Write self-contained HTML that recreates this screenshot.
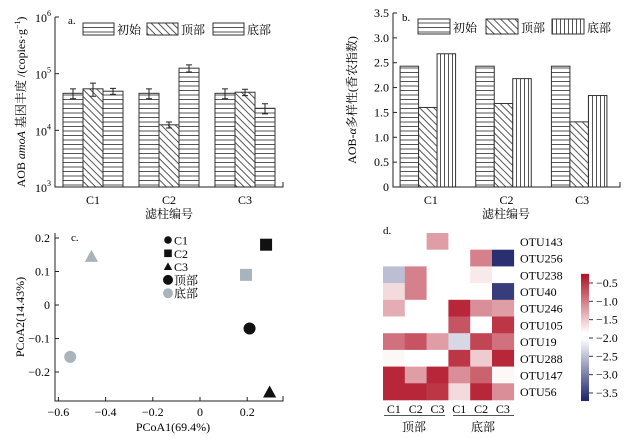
<!DOCTYPE html>
<html><head><meta charset="utf-8"><style>
body{margin:0;background:#fff}
svg{display:block;font-family:"Liberation Serif","Noto Serif CJK SC",serif;}
</style></head><body>
<svg id="s" width="633" height="438" viewBox="0 0 633 438" xmlns="http://www.w3.org/2000/svg">
<defs>
<pattern id="ph" width="6" height="4.5" patternUnits="userSpaceOnUse"><rect width="6" height="4.5" fill="#fff"/><line x1="0" y1="0.5" x2="6" y2="0.5" stroke="#555" stroke-width="1"/></pattern>
<pattern id="pd" width="5" height="5" patternUnits="userSpaceOnUse" patternTransform="rotate(-45)"><rect width="5" height="5" fill="#fff"/><line x1="0.5" y1="0" x2="0.5" y2="5" stroke="#555" stroke-width="1"/></pattern>
<pattern id="pv" width="4" height="6" patternUnits="userSpaceOnUse"><rect width="4" height="6" fill="#fff"/><line x1="0.5" y1="0" x2="0.5" y2="6" stroke="#555" stroke-width="1"/></pattern>
</defs>
<g id="ga"></g>
<g id="gb"></g>
<g id="gc"></g>
<g id="gd"></g>
</svg>
<script>
const groups=["C1","C2","C3"];
const seriesNames=["初始","顶部","底部"];
const aInit=[45000,45000,45000];
const aTop=[54000,12500,47000];
const aBot=[49000,125000,24500];
const aErrInit=[9000,9000,9000];
const aErrTop=[14000,1500,6000];
const aErrBot=[6000,18000,5000];
const aTicks=[3,4,5,6];
const bInit=[2.43,2.43,2.43];
const bTop=[1.6,1.68,1.31];
const bBot=[2.68,2.18,1.84];
const bTicks=[0,0.5,1.0,1.5,2.0,2.5,3.0,3.5];
const cLabels=["顶部-C1","顶部-C2","顶部-C3","底部-C1","底部-C2","底部-C3"];
const cX=[0.21,0.28,0.295,-0.55,0.195,-0.46];
const cY=[-0.07,0.18,-0.26,-0.155,0.09,0.145];
const cXTicks=[-0.6,-0.4,-0.2,0,0.2];
const cYTicks=[-0.2,-0.1,0,0.1,0.2];
const otus=["OTU143","OTU256","OTU238","OTU40","OTU246","OTU105","OTU19","OTU288","OTU147","OTU56"];
const hCols=["C1","C2","C3","C1","C2","C3"];
const hRow0=[-2,-2,-1.2,-2,-2,-2];
const hRow1=[-2,-2,-2,-2,-1.0,-3.6];
const hRow2=[-2.5,-1.0,-2,-2,-1.7,-2];
const hRow3=[-1.6,-1.0,-1.85,-2,-1.85,-3.5];
const hRow4=[-1.3,-2,-2,-0.4,-1.1,-1.2];
const hRow5=[-2,-2,-2,-0.7,-2,-0.5];
const hRow6=[-0.9,-0.7,-1.2,-2.3,-0.6,-0.9];
const hRow7=[-1.8,-2,-2,-0.5,-1.5,-0.4];
const hRow8=[-0.4,-1.2,-0.4,-1.1,-0.8,-1.8];
const hRow9=[-0.4,-0.4,-0.5,-1.6,-0.4,-1.1];
const cbTicks=[-0.5,-1.0,-1.5,-2.0,-2.5,-3.0,-3.5];

const NS="http://www.w3.org/2000/svg";
function mk(p,tag,at,txt){const e=document.createElementNS(NS,tag);for(const k in at)e.setAttribute(k,at[k]);if(txt!==undefined)e.textContent=txt;p.appendChild(e);return e;}
const fills=["url(#ph)","url(#pd)","url(#ph)"];
const fillsB=["url(#ph)","url(#pd)","url(#pv)"];

// ---- Panel A
(function(){
const g=document.getElementById('ga');
const x0=55,x1=283,yTop=17,yBot=187;
const ly=v=>yBot-(Math.log10(v)-3)/3*(yBot-yTop);
const bw=(x1-x0)/3, w=20;
const data=[aInit,aTop,aBot], errs=[aErrInit,aErrTop,aErrBot];
groups.forEach((c,i)=>{
 const cx=x0+bw*(i+0.5);
 for(let s=0;s<3;s++){
  const bx=cx-30+s*w, y=ly(data[s][i]);
  let r=mk(g,'rect',{x:bx,y:y,width:w,height:yBot-y,fill:fills[s],stroke:'#333','stroke-width':1});
  
  
  const yh=ly(data[s][i]+errs[s][i]), yl=ly(data[s][i]-errs[s][i]), ex=bx+w/2;
  let e=mk(g,'path',{d:`M${ex} ${yh}V${yl}M${ex-3} ${yh}H${ex+3}M${ex-3} ${yl}H${ex+3}`,stroke:'#222',fill:'none','stroke-width':1});
  
  
 }
 let t=mk(g,'text',{x:cx,y:204,'font-size':12,'text-anchor':'middle'},c);
 
 
});
mk(g,'path',{d:`M${x0} ${yTop}V${yBot}H${x1}V${yBot-5}`,stroke:'#222',fill:'none'});
aTicks.forEach(p=>{const y=ly(Math.pow(10,p));mk(g,'line',{x1:x0,y1:y,x2:x0+4,y2:y,stroke:'#222'});
 const t=mk(g,'text',{x:x0-4,y:y+5,'font-size':12,'text-anchor':'end'});t.innerHTML=`10<tspan dy="-6" font-size="8">${p}</tspan>`;
 
});
mk(g,'text',{x:68,y:24,'font-size':11},'a.');
const lx=[83,147,213];
seriesNames.forEach((n,s)=>{let r=mk(g,'rect',{x:lx[s],y:23,width:31,height:12,fill:fills[s],stroke:'#333'});
 
 let t=mk(g,'text',{x:lx[s]+34,y:34,'font-size':12},n);});
let yt=mk(g,'text',{x:0,y:0,'font-size':12,'text-anchor':'middle',transform:'translate(25,102) rotate(-90)'});
yt.innerHTML='AOB <tspan font-style="italic">amoA</tspan> 基因丰度 /(copies·g<tspan dy="-5" font-size="8">−1</tspan><tspan dy="5">)</tspan>';

let xt=mk(g,'text',{x:169,y:218,'font-size':12,'text-anchor':'middle'},'滤柱编号');

})();

// ---- Panel B
(function(){
const g=document.getElementById('gb');
const x0=393,x1=620,yTop=13,yBot=187;
const ly=v=>yBot-v/3.5*(yBot-yTop);
const bw=(x1-x0)/3,w=18.5;
const data=[bInit,bTop,bBot];
groups.forEach((c,i)=>{
 const cx=x0+bw*(i+0.5)-3;
 for(let s=0;s<3;s++){const bx=cx-1.5*w+s*w,y=ly(data[s][i]);
  let r=mk(g,'rect',{x:bx,y:y,width:w,height:yBot-y,fill:fillsB[s],stroke:'#333'});
  }
 let t=mk(g,'text',{x:cx+3,y:204,'font-size':12,'text-anchor':'middle'},c);
 
});
mk(g,'path',{d:`M${x0} ${yTop}V${yBot}H${x1}V${yBot-5}`,stroke:'#222',fill:'none'});
bTicks.forEach(v=>{const y=ly(v);mk(g,'line',{x1:x0,y1:y,x2:x0+4,y2:y,stroke:'#222'});
 let t=mk(g,'text',{x:x0-4,y:y+4,'font-size':12,'text-anchor':'end'},v===0?'0':v.toFixed(1));
 });
mk(g,'text',{x:402,y:21,'font-size':11},'b.');
const lx=[418,486,552];
seriesNames.forEach((n,s)=>{let r=mk(g,'rect',{x:lx[s],y:19,width:32,height:15,fill:fillsB[s],stroke:'#333'});
 
 let t=mk(g,'text',{x:lx[s]+35,y:32,'font-size':12},n);});
let yt=mk(g,'text',{x:0,y:0,'font-size':12,'text-anchor':'middle',transform:'translate(356,100) rotate(-90)'});
yt.innerHTML='AOB-<tspan font-style="italic">α</tspan>多样性(香农指数)';

let xt=mk(g,'text',{x:506,y:218,'font-size':12,'text-anchor':'middle'},'滤柱编号');

})();

// ---- Panel C
(function(){
const g=document.getElementById('gc');
const x0=55,x1=283,yTop=233,yBot=401;
const sx=v=>200+v/0.2*47.2, sy=v=>305-v/0.1*33.5;
mk(g,'path',{d:`M${x0} ${yTop}V${yBot}H${x1}V${yBot-5}`,stroke:'#222',fill:'none'});
cXTicks.forEach(v=>{const x=sx(v);mk(g,'line',{x1:x,y1:yBot,x2:x,y2:yBot-4,stroke:'#222'});
 let t=mk(g,'text',{x:x,y:416,'font-size':12,'text-anchor':'middle'},v===0?'0':(v<0?'−':'')+Math.abs(v).toFixed(1));
 });
cYTicks.forEach(v=>{const y=sy(v);mk(g,'line',{x1:x0,y1:y,x2:x0+4,y2:y,stroke:'#222'});
 let t=mk(g,'text',{x:x0-5,y:y+4,'font-size':12,'text-anchor':'end'},v===0?'0':(v<0?'−':'')+Math.abs(v).toFixed(1));
 });
function shape(p,k,x,y,col,sz){
 if(k===0) return mk(p,'circle',{cx:x,cy:y,r:sz,fill:col});
 if(k===1) return mk(p,'rect',{x:x-sz,y:y-sz,width:2*sz,height:2*sz,fill:col});
 return mk(p,'path',{d:`M${x} ${y-sz*1.1}L${x+sz*1.1} ${y+sz*0.9}L${x-sz*1.1} ${y+sz*0.9}Z`,fill:col});
}
cX.forEach((v,i)=>{const col=i<3?'#111':'#a9b3bb';
 let e=shape(g,i%3,sx(v),sy(cY[i]),col,6);
 });
const leg=[['C1',0,'#111'],['C2',1,'#111'],['C3',2,'#111'],['顶部',0,'#111'],['底部',0,'#a9b3bb']];
leg.forEach((l,i)=>{const y=240+i*13.3;let e=shape(g,l[1],168,y,l[2],i<3?3.8:5);
 
 let t=mk(g,'text',{x:174,y:y+4.5,'font-size':12},l[0]);});
mk(g,'text',{x:71,y:241,'font-size':11},'c.');
let yt=mk(g,'text',{x:0,y:0,'font-size':12,'text-anchor':'middle',transform:'translate(24,317) rotate(-90)'},'PCoA2(14.43%)');

let xt=mk(g,'text',{x:173,y:431,'font-size':12,'text-anchor':'middle'},'PCoA1(69.4%)');

})();

// ---- Panel D
(function(){
const g=document.getElementById('gd');
const rows=[hRow0,hRow1,hRow2,hRow3,hRow4,hRow5,hRow6,hRow7,hRow8,hRow9];
const x0=383,y0=233,cw=21.8,rh=16.7;
function lerp(a,b,t){return a.map((v,i)=>Math.round(v+(b[i]-v)*t));}
function color(v){const red=[178,24,43],wh=[255,255,255],blue=[35,40,110];
 if(v>=-1.85){const t=Math.min(1,(v+1.85)/1.55);return 'rgb('+lerp(wh,red,t).join(',')+')';}
 if(v>=-2.0)return 'rgb(255,255,255)';
 const t=Math.min(1,(-2.0-v)/1.65);return 'rgb('+lerp(wh,blue,t).join(',')+')';}
rows.forEach((row,r)=>{row.forEach((v,c)=>{
 let e=mk(g,'rect',{x:x0+c*cw,y:y0+r*rh,width:cw+0.3,height:rh+0.3,fill:color(v)});
 });
 let t=mk(g,'text',{x:520,y:y0+r*rh+rh/2+4.5,'font-size':12},otus[r]);
 });
hCols.forEach((c,i)=>{let t=mk(g,'text',{x:x0+cw*(i+0.5),y:413,'font-size':12,'text-anchor':'middle'},c);
 });
mk(g,'line',{x1:384,y1:415.5,x2:445,y2:415.5,stroke:'#555'});
mk(g,'line',{x1:453,y1:415.5,x2:514,y2:415.5,stroke:'#555'});
mk(g,'text',{x:414,y:431,'font-size':12,'text-anchor':'middle'},'顶部');
mk(g,'text',{x:483,y:431,'font-size':12,'text-anchor':'middle'},'底部');
mk(g,'text',{x:383,y:234,'font-size':11},'d.');
const cy=v=>283+(-0.5-v)/0.5*18.33;
const top=cy(-0.25),bot=cy(-3.7);
for(let y=top;y<bot;y+=1){const v=-0.5-(y-283)/18.33*0.5;mk(g,'rect',{x:581,y:y,width:8,height:1.2,fill:color(v)});}
cbTicks.forEach(v=>{const y=cy(v);mk(g,'line',{x1:589,y1:y,x2:593,y2:y,stroke:'#333'});
 let t=mk(g,'text',{x:596,y:y+4,'font-size':12},'−'+Math.abs(v).toFixed(1));
 });
})();
</script>
</body></html>
